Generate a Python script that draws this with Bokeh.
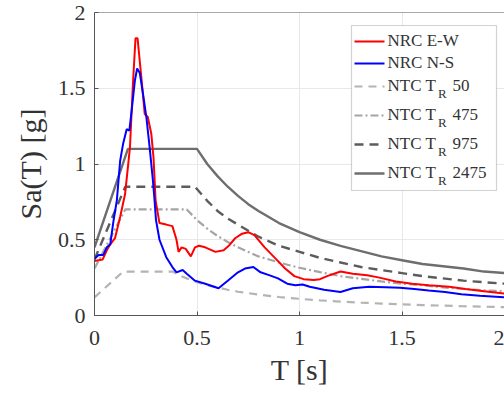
from bokeh.plotting import figure
from bokeh.models import (Range1d, FixedTicker, BoxAnnotation, Label, Span)
from bokeh.embed import file_html
from bokeh.resources import INLINE

# ---------------- data ----------------
ew_T = [0, 0.04, 0.06, 0.077, 0.10, 0.125, 0.149, 0.173, 0.1875, 0.20, 0.21, 0.23,
        0.245, 0.26, 0.277, 0.288, 0.298, 0.317, 0.35, 0.38, 0.40, 0.41, 0.425,
        0.445, 0.47, 0.49, 0.51, 0.54, 0.59, 0.63, 0.655, 0.686, 0.72, 0.75, 0.78,
        0.83, 0.88, 0.93, 0.975, 1.02, 1.07, 1.10, 1.135, 1.20, 1.26, 1.33, 1.39,
        1.47, 1.55, 1.63, 1.73, 1.81, 1.90, 2.0]
ew_Sa = [0.36, 0.37, 0.43, 0.47, 0.51, 0.65, 0.80, 1.11, 1.53, 1.83, 1.83, 1.55,
         1.33, 1.31, 1.20, 1.04, 0.76, 0.61, 0.60, 0.59, 0.50, 0.42, 0.45,
         0.44, 0.39, 0.45, 0.46, 0.45, 0.42, 0.43, 0.46, 0.51, 0.54, 0.55, 0.53,
         0.45, 0.38, 0.31, 0.26, 0.24, 0.235, 0.24, 0.26, 0.29, 0.275, 0.265, 0.25,
         0.225, 0.21, 0.20, 0.19, 0.175, 0.16, 0.145]

ns_T = [0, 0.02, 0.043, 0.06, 0.077, 0.091, 0.109, 0.125, 0.139, 0.157, 0.17, 0.181,
        0.197, 0.208, 0.221, 0.237, 0.253, 0.269, 0.285, 0.293, 0.30, 0.317, 0.35,
        0.38, 0.40, 0.43, 0.45, 0.49, 0.54, 0.605, 0.65, 0.70, 0.734, 0.775, 0.81,
        0.855, 0.895, 0.94, 0.98, 1.015, 1.05, 1.12, 1.20, 1.26, 1.34, 1.42, 1.49,
        1.56, 1.63, 1.71, 1.79, 1.88, 2.0]
ns_Sa = [0.375, 0.40, 0.40, 0.45, 0.47, 0.61, 0.76, 1.02, 1.13, 1.23, 1.22, 1.35,
         1.55, 1.63, 1.60, 1.46, 1.31, 1.11, 0.89, 0.76, 0.63, 0.50, 0.385,
         0.32, 0.285, 0.30, 0.275, 0.23, 0.21, 0.18, 0.23, 0.285, 0.31, 0.32, 0.285,
         0.265, 0.245, 0.21, 0.20, 0.205, 0.19, 0.17, 0.155, 0.18, 0.19, 0.187, 0.183,
         0.175, 0.165, 0.155, 0.14, 0.13, 0.12]

ntc50_T = [0, 0.14, 0.38, 0.42, 0.45, 0.5, 0.55, 0.6, 0.65, 0.7, 0.8, 0.9, 1.0, 1.1,
           1.2, 1.3, 1.4, 1.5, 1.6, 1.7, 1.8, 1.9, 2.0]
ntc50_Sa = [0.12, 0.29, 0.29, 0.262, 0.245, 0.22, 0.20, 0.185, 0.17, 0.157, 0.138,
            0.122, 0.11, 0.10, 0.092, 0.085, 0.079, 0.074, 0.069, 0.065, 0.061,
            0.058, 0.055]

ntc475_T = [0, 0.15, 0.45, 0.5, 0.55, 0.6, 0.65, 0.7, 0.8, 0.9, 1.0, 1.1, 1.2, 1.3,
            1.4, 1.5, 1.6, 1.7, 1.8, 1.9, 2.0]
ntc475_Sa = [0.31, 0.70, 0.70, 0.63, 0.573, 0.525, 0.485, 0.45, 0.39, 0.35, 0.315,
             0.286, 0.26, 0.242, 0.225, 0.21, 0.20, 0.185, 0.175, 0.166, 0.16]

ntc975_T = [0, 0.15, 0.49, 0.55, 0.6, 0.65, 0.7, 0.8, 0.9, 1.0, 1.1, 1.2, 1.3, 1.4,
            1.5, 1.6, 1.7, 1.8, 1.9, 2.0]
ntc975_Sa = [0.37, 0.85, 0.85, 0.757, 0.69, 0.64, 0.60, 0.52, 0.46, 0.42, 0.38, 0.35,
             0.32, 0.30, 0.28, 0.26, 0.245, 0.23, 0.22, 0.21]

ntc2475_T = [0, 0.163, 0.5, 0.55, 0.6, 0.65, 0.7, 0.75, 0.8, 0.9, 1.0, 1.1, 1.2, 1.3,
             1.4, 1.5, 1.6, 1.7, 1.8, 1.9, 2.0]
ntc2475_Sa = [0.45, 1.10, 1.10, 1.00, 0.92, 0.85, 0.79, 0.735, 0.69, 0.61, 0.55, 0.50,
              0.46, 0.425, 0.39, 0.365, 0.34, 0.325, 0.31, 0.29, 0.28]

x_ticks = [0, 0.5, 1, 1.5, 2]
x_tick_labels = ["0", "0.5", "1", "1.5", "2"]
y_ticks = [0, 0.5, 1, 1.5, 2]
y_tick_labels = ["0", "0.5", "1", "1.5", "2"]

legend_labels = ["NRC E-W", "NRC N-S", "NTC T", "NTC T", "NTC T", "NTC T"]
legend_suffix = ["", "", "50", "475", "975", "2475"]

# ---------------- styling ----------------
FONT = "Liberation Serif"
W, H = 504, 393
FL, FR, FT, FB = 94, 504, 12, 315   # frame edges in px
XMAX, YMAX = 2.0, 2.0

RED = "#ff0000"
BLUE = "#0000ff"
C50 = "#b4b4b4"
C475 = "#a5a5a5"
C975 = "#5c5c5c"
C2475 = "#6e6e6e"
AXC = "#555555"
TXT = "#333333"

def dx(px):
    return (px - FL) / (FR - FL) * XMAX

def dy(py):
    return (FB - py) / (FB - FT) * YMAX

p = figure(width=W, height=H, output_backend="svg", toolbar_location=None,
           x_range=Range1d(0, XMAX), y_range=Range1d(0, YMAX),
           min_border_left=FL, min_border_right=0, min_border_top=FT,
           min_border_bottom=H - FB)
p.outline_line_color = None
p.background_fill_color = "white"
p.border_fill_color = "white"

for ax, ticks, labels in ((p.xaxis[0], x_ticks, x_tick_labels),
                          (p.yaxis[0], y_ticks, y_tick_labels)):
    ax.ticker = FixedTicker(ticks=ticks)
    ax.major_label_overrides = {t: l for t, l in zip(ticks, labels)}
    ax.major_tick_in = 4
    ax.major_tick_out = 0
    ax.minor_tick_line_color = None
    ax.axis_line_color = AXC
    ax.major_tick_line_color = AXC
    ax.major_label_text_font = FONT
    ax.major_label_text_font_size = "22px"
    ax.major_label_text_color = TXT
    ax.axis_label_text_font = FONT
    ax.axis_label_text_font_size = "30px"
    ax.axis_label_text_font_style = "normal"
    ax.axis_label_text_color = TXT

p.xaxis.axis_label = "T [s]"
p.yaxis.axis_label = "Sa(T) [g]"
p.xaxis.major_label_standoff = 15
p.xaxis.axis_label_standoff = 5
p.yaxis.major_label_standoff = 9
p.yaxis.axis_label_standoff = 8

# top border of the axes box
p.add_layout(Span(location=YMAX, dimension="width", line_color=AXC, line_width=1))

p.grid.grid_line_color = "#e8e8e8"
p.grid.grid_line_width = 1
p.xgrid.ticker = FixedTicker(ticks=x_ticks)
p.ygrid.ticker = FixedTicker(ticks=y_ticks)

# ---------------- curves ----------------
p.line(ntc50_T, ntc50_Sa, line_color=C50, line_width=2.2, line_dash="8 6")
p.line(ntc475_T, ntc475_Sa, line_color=C475, line_width=2.2, line_dash="8 3 2 3")
p.line(ntc975_T, ntc975_Sa, line_color=C975, line_width=2.4, line_dash="9 6")
p.line(ntc2475_T, ntc2475_Sa, line_color=C2475, line_width=2.4)
p.line(ew_T, ew_Sa, line_color=RED, line_width=2)
p.line(ns_T, ns_Sa, line_color=BLUE, line_width=2)

# ---------------- legend (manual, for the subscript R) ----------------
box = BoxAnnotation(left=dx(351), right=dx(496), top=dy(25), bottom=dy(190),
                    fill_color="white", fill_alpha=1.0, line_color="#6a6a6a",
                    line_width=1.2, level="underlay")
p.add_layout(box)

styles = [(RED, None, 2), (BLUE, None, 2), (C50, "8 6", 2.2),
          (C475, "8 3 2 3", 2.2), (C975, "9 6", 2.4), (C2475, None, 2.4)]
rows_py = [40, 62, 85, 114, 143, 172]
for (col, dash, lw), ry, lab, suf in zip(styles, rows_py, legend_labels, legend_suffix):
    kw = dict(line_color=col, line_width=lw)
    if dash:
        kw["line_dash"] = dash
    p.line([dx(354), dx(384)], [dy(ry + 1), dy(ry + 1)], **kw)
    p.add_layout(Label(x=dx(387), y=dy(ry), text=lab, text_font=FONT,
                       text_font_size="17px", text_color=TXT,
                       text_baseline="middle", text_align="left"))
    if suf:
        p.add_layout(Label(x=dx(437.5), y=dy(ry + 8), text="R", text_font=FONT,
                           text_font_size="13px", text_color=TXT,
                           text_baseline="middle", text_align="left"))
        p.add_layout(Label(x=dx(452), y=dy(ry), text=suf, text_font=FONT,
                           text_font_size="17px", text_color=TXT,
                           text_baseline="middle", text_align="left"))

open("out.html", "w").write(file_html(p, INLINE))
